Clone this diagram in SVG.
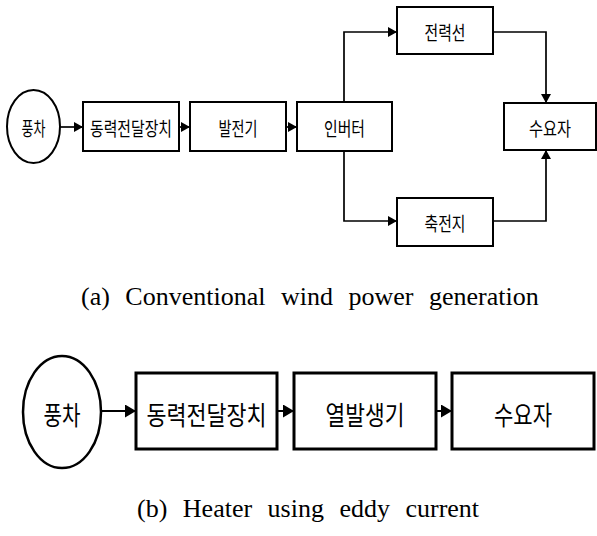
<svg xmlns="http://www.w3.org/2000/svg" width="597" height="536" viewBox="0 0 597 536">
<defs>
<marker id="ah" viewBox="0 0 9 10" refX="9" refY="5" markerWidth="9" markerHeight="10" markerUnits="userSpaceOnUse" orient="auto"><path d="M0,0 L9,5 L0,10 z" fill="#000"/></marker>
<marker id="ah2" viewBox="0 0 11 13" refX="11" refY="6.5" markerWidth="11" markerHeight="13" markerUnits="userSpaceOnUse" orient="auto"><path d="M0,0 L11,6.5 L0,13 z" fill="#000"/></marker>
<style>
.n{fill:#fff;stroke:#000;stroke-width:2}
.nb{fill:#fff;stroke:#000;stroke-width:3}
.ne{fill:#fff;stroke:#000;stroke-width:2.5}
.t{font-family:"Noto Sans CJK KR","Noto Sans",sans-serif;font-size:19px;text-anchor:middle;dominant-baseline:central;fill:#000}
.tb{font-family:"Noto Sans CJK KR","Noto Sans",sans-serif;font-size:26px;text-anchor:middle;dominant-baseline:central;fill:#000}
.c{fill:none;stroke:#000;stroke-width:1.7;marker-end:url(#ah)}
.cb{fill:none;stroke:#000;stroke-width:2;marker-end:url(#ah2)}
.cap{font-family:"Liberation Serif","Times New Roman",serif;font-size:26px;word-spacing:9px;fill:#000}
</style>
</defs>
<rect width="597" height="536" fill="#fff"/>
<g id="connectors">
<path class="c" d="M60,127 L83,127"/>
<path class="c" d="M179,127 L190,127"/>
<path class="c" d="M286,127 L297,127"/>
<path class="c" d="M344,102 L344,32 L397,32"/>
<path class="c" d="M344,151 L344,221 L397,221"/>
<path class="c" d="M493,32 L546,32 L546,103"/>
<path class="c" d="M493,221 L546,221 L546,150"/>
<path class="cb" d="M101,411 L136,411"/>
<path class="cb" d="M277,411 L294,411"/>
<path class="cb" d="M436,411 L452,411"/>
</g>
<g id="a_windmill"><ellipse class="n" cx="33.5" cy="126.5" rx="26.5" ry="36.5"/><text class="t" x="33.5" y="127" textLength="24" lengthAdjust="spacingAndGlyphs">풍차</text></g>
<g id="a_transmission"><rect class="n" x="83" y="102" width="96" height="49"/><text class="t" x="131" y="127" textLength="82" lengthAdjust="spacingAndGlyphs">동력전달장치</text></g>
<g id="a_generator"><rect class="n" x="190" y="102" width="96" height="49"/><text class="t" x="238" y="127" textLength="39" lengthAdjust="spacingAndGlyphs">발전기</text></g>
<g id="a_inverter"><rect class="n" x="297" y="102" width="95" height="49"/><text class="t" x="344.5" y="127" textLength="41" lengthAdjust="spacingAndGlyphs">인버터</text></g>
<g id="a_powerline"><rect class="n" x="397" y="7" width="96" height="47"/><text class="t" x="445" y="31" textLength="41" lengthAdjust="spacingAndGlyphs">전력선</text></g>
<g id="a_battery"><rect class="n" x="397" y="198" width="96" height="48"/><text class="t" x="445" y="222" textLength="41" lengthAdjust="spacingAndGlyphs">축전지</text></g>
<g id="a_consumer"><rect class="n" x="504" y="103" width="92" height="47"/><text class="t" x="550" y="127" textLength="42" lengthAdjust="spacingAndGlyphs">수요자</text></g>
<text class="cap" x="81" y="305">(a) Conventional wind power generation</text>
<g id="b_windmill"><ellipse class="ne" cx="62" cy="412" rx="39" ry="56"/><text class="tb" x="62" y="413" textLength="37" lengthAdjust="spacingAndGlyphs">풍차</text></g>
<g id="b_transmission"><rect class="nb" x="136" y="373" width="141" height="76"/><text class="tb" x="206.5" y="413" textLength="120" lengthAdjust="spacingAndGlyphs">동력전달장치</text></g>
<g id="b_heater"><rect class="nb" x="294" y="373" width="142" height="76"/><text class="tb" x="365" y="413" textLength="79" lengthAdjust="spacingAndGlyphs">열발생기</text></g>
<g id="b_consumer"><rect class="nb" x="452" y="373" width="142" height="76"/><text class="tb" x="523" y="413" textLength="58" lengthAdjust="spacingAndGlyphs">수요자</text></g>
<text class="cap" x="137" y="517">(b) Heater using eddy current</text>
</svg>
